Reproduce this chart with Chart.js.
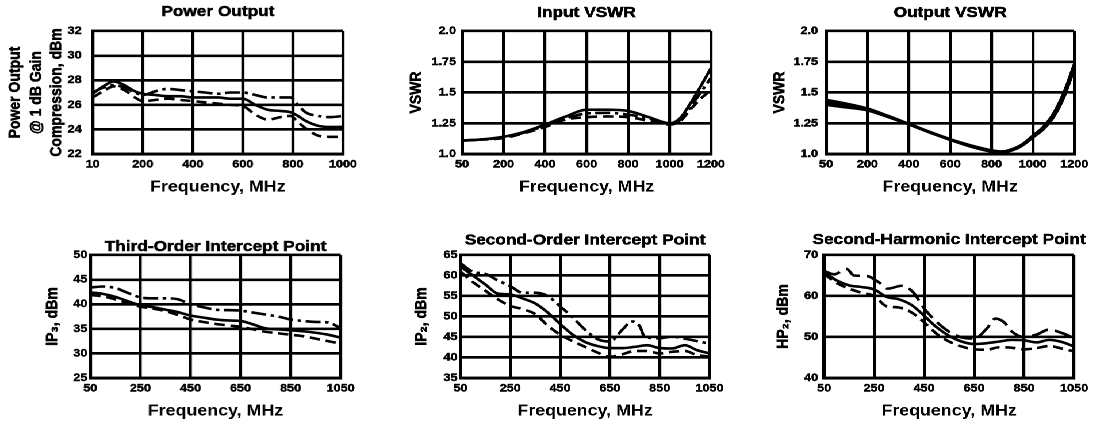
<!DOCTYPE html>
<html>
<head>
<meta charset="utf-8">
<script src="https://cdn.jsdelivr.net/npm/chart.js@4/dist/chart.umd.min.js"></script>
<style>
  html, body { margin: 0; padding: 0; background: #fff; width: 1099px; height: 424px; overflow: hidden; }
  #wrap { position: absolute; left: 0; top: 0; height: 424px; transform-origin: 0 0; }
  .panel { position: absolute; }
</style>
</head>
<body>
<div id="wrap"></div>
<script>
'use strict';

// The scanned figure is a bit wider than it is tall, so the whole page gets stretched in x
const S = 1.15;
const FONT = "'Liberation Sans', Arial, Helvetica, sans-serif";

// ---- Power Output ----
const poXTicks = [10, 200, 400, 600, 800, 1000];
const poYTicks = [22, 24, 26, 28, 30, 32];
const poFreq = [10, 50, 90, 130, 170, 200, 250, 300, 350, 400, 450, 500, 550, 600, 650, 700, 750, 790, 820, 850, 900, 950, 1000];
const poDashDot = [27.0, 27.4, 27.6, 27.4, 27.0, 26.8, 27.1, 27.3, 27.2, 27.1, 27.0, 26.9, 27.0, 27.0, 26.8, 26.6, 26.6, 26.6, 26.0, 25.4, 25.1, 25.0, 25.1];
const poSolid = [26.9, 27.5, 27.9, 27.6, 27.1, 26.9, 26.8, 26.7, 26.7, 26.6, 26.6, 26.6, 26.5, 26.5, 26.0, 25.6, 25.5, 25.4, 25.1, 24.7, 24.3, 24.2, 24.2];
const poDashed = [26.6, 27.1, 27.5, 27.2, 26.6, 26.3, 26.4, 26.5, 26.4, 26.3, 26.2, 26.1, 26.0, 25.9, 25.2, 24.8, 25.0, 25.1, 24.6, 24.1, 23.5, 23.4, 23.4];

// ---- Input VSWR ----
const vswrXTicks = [50, 200, 400, 600, 800, 1000, 1200];
const vswrYTicks = [1.0, 1.25, 1.5, 1.75, 2.0];
const vswrYLabels = ['1.0', '1.25', '1.5', '1.75', '2.0'];
const ivFreq = [50, 100, 200, 300, 400, 500, 600, 700, 800, 900, 1000, 1050, 1100, 1150, 1200];
const ivSolid = [1.11, 1.115, 1.14, 1.18, 1.24, 1.305, 1.36, 1.36, 1.35, 1.30, 1.25, 1.29, 1.41, 1.55, 1.70];
const ivDashDot = [1.11, 1.115, 1.135, 1.175, 1.23, 1.29, 1.33, 1.335, 1.32, 1.29, 1.245, 1.275, 1.38, 1.50, 1.62];
const ivDashed = [1.11, 1.115, 1.13, 1.17, 1.22, 1.28, 1.30, 1.305, 1.30, 1.27, 1.24, 1.265, 1.36, 1.45, 1.52];

// ---- Output VSWR ----
const ovFreq = [50, 100, 200, 300, 400, 500, 600, 700, 800, 850, 900, 950, 1000, 1050, 1100, 1150, 1200];
const ovSolid = [1.44, 1.42, 1.37, 1.31, 1.245, 1.18, 1.12, 1.07, 1.03, 1.02, 1.04, 1.08, 1.15, 1.22, 1.33, 1.50, 1.73];
const ovDashed = [1.42, 1.40, 1.36, 1.305, 1.245, 1.18, 1.12, 1.065, 1.025, 1.02, 1.035, 1.075, 1.14, 1.21, 1.31, 1.48, 1.71];
const ovDashDot = [1.40, 1.385, 1.355, 1.30, 1.24, 1.175, 1.115, 1.06, 1.02, 1.015, 1.03, 1.07, 1.135, 1.20, 1.30, 1.46, 1.69];

// ---- bottom row shares one frequency axis ----
const ipXTicks = [50, 250, 450, 650, 850, 1050];
const ipFreq = [50, 100, 150, 200, 250, 300, 350, 400, 450, 500, 550, 600, 650, 700, 750, 800, 850, 900, 950, 1000, 1050];

// ---- Third-Order Intercept Point ----
const ip3YTicks = [25, 30, 35, 40, 45, 50];
const ip3DashDot = [43.4, 43.6, 43.3, 42.3, 41.4, 41.2, 41.2, 41.0, 40.0, 39.4, 38.9, 38.8, 38.7, 38.3, 37.9, 37.5, 36.9, 36.6, 36.4, 36.3, 35.1];
const ip3Solid = [42.4, 42.1, 41.5, 40.6, 39.8, 39.4, 38.9, 38.4, 37.7, 37.3, 36.9, 36.7, 36.6, 35.9, 35.1, 34.9, 34.7, 34.5, 34.2, 33.8, 33.2];
const ip3Dashed = [41.9, 41.6, 41.0, 40.2, 39.5, 39.1, 38.6, 37.8, 36.9, 36.4, 36.0, 35.7, 35.4, 34.9, 34.4, 34.1, 33.8, 33.5, 33.0, 32.5, 32.0];

// ---- Second-Order Intercept Point ----
const ip2YTicks = [35, 40, 45, 50, 55, 60, 65];
const ip2TopFreq = [50, 100, 150, 200, 250, 300, 350, 400, 450, 500, 550, 600, 650, 700, 740, 770, 790, 850, 900, 950, 1000, 1050];
const ip2Top = [63.0, 60.9, 60.4, 58.8, 57.4, 55.8, 55.8, 55.0, 52.5, 49.8, 46.8, 44.5, 43.9, 46.8, 48.8, 47.6, 45.0, 44.7, 45.1, 44.6, 44.0, 43.4];
const ip2Solid = [62.2, 60.0, 57.8, 55.6, 55.4, 54.4, 53.2, 51.0, 48.2, 45.6, 43.8, 42.8, 42.3, 42.3, 42.6, 43.0, 42.3, 42.2, 43.0, 41.8, 41.0];
const ip2Dashed = [61.0, 58.4, 56.3, 54.2, 52.6, 51.8, 50.6, 47.8, 45.6, 44.0, 42.6, 41.2, 40.2, 40.8, 41.6, 41.6, 41.0, 41.4, 41.6, 40.6, 40.2];

// ---- Second-Harmonic Intercept Point ----
const hp2YTicks = [40, 50, 60, 70];
const hp2TopFreq = [50, 90, 140, 170, 220, 270, 305, 360, 405, 450, 500, 550, 600, 650, 700, 735, 770, 800, 850, 900, 950, 1000, 1050];
const hp2Top = [66.1, 65.3, 66.6, 65.0, 64.9, 63.3, 61.8, 62.5, 61.0, 57.0, 53.7, 51.3, 49.9, 49.6, 52.0, 54.5, 53.6, 51.4, 50.0, 50.6, 51.8, 51.0, 49.8];
const hp2Solid = [65.8, 63.8, 62.6, 62.2, 61.6, 59.8, 59.2, 57.8, 55.2, 52.4, 50.3, 48.9, 48.3, 48.5, 48.9, 49.3, 49.2, 48.7, 49.3, 48.8, 47.7];
const hp2Dashed = [65.4, 63.2, 61.8, 60.8, 60.0, 57.5, 57.2, 56.0, 53.6, 50.8, 48.9, 47.7, 47.0, 46.9, 47.5, 47.4, 47.0, 47.3, 47.8, 47.2, 46.5];

// line styles
const SOLID = [];
const DASHED = [9, 5];
const DASHDOT = [13, 4, 3, 4];
const LONGDASH = [15, 6];

/**
 * The frequency axes are evenly gridded even where the first label is not
 * (10 or 50 MHz sits on the left edge), so map MHz to grid units piecewise.
 */
function gridPos(ticks, f) {
  for (let i = 0; i < ticks.length - 1; i++) {
    if (f <= ticks[i + 1] || i === ticks.length - 2) {
      return i + (f - ticks[i]) / (ticks[i + 1] - ticks[i]);
    }
  }
  return 0;
}

function series(freq, vals, dash, xTicks) {
  return {
    data: freq.map((f, i) => ({ x: gridPos(xTicks, f), y: vals[i] })),
    borderColor: '#000',
    borderWidth: 2.6,
    borderDash: dash,
    pointRadius: 0,
    cubicInterpolationMode: 'monotone',
    fill: false
  };
}

// plot rectangles are in final (page) pixels: [left, top, right, bottom]
// titleGap: plot top to title middle; yTitleAt: page x of each y-title line
const panels = [
  {
    title: 'Power Output', titleGap: 19,
    yTitle: ['Power Output', '@ 1 dB Gain', 'Compression, dBm'], yTitleAt: [15.5, 37, 57], tickPad: 9.6,
    xTicks: poXTicks, yTicks: poYTicks, yLabels: poYTicks.map(String),
    plot: [93, 31, 343, 154],
    lines: [
      series(poFreq, poDashDot, DASHDOT, poXTicks),
      series(poFreq, poSolid, SOLID, poXTicks),
      series(poFreq, poDashed, DASHED, poXTicks)
    ]
  },
  {
    title: 'Input VSWR', titleGap: 18,
    yTitle: ['VSWR'], yTitleAt: [416.5], tickPad: 5.2,
    xTicks: vswrXTicks, yTicks: vswrYTicks, yLabels: vswrYLabels,
    plot: [462, 31, 711, 154],
    lines: [
      series(ivFreq, ivSolid, SOLID, vswrXTicks),
      series(ivFreq, ivDashDot, DASHDOT, vswrXTicks),
      series(ivFreq, ivDashed, DASHED, vswrXTicks)
    ]
  },
  {
    title: 'Output VSWR', titleGap: 18,
    yTitle: ['VSWR'], yTitleAt: [779.5], tickPad: 7,
    xTicks: vswrXTicks, yTicks: vswrYTicks, yLabels: vswrYLabels,
    plot: [826, 31, 1074, 154],
    lines: [
      series(ovFreq, ovSolid, SOLID, vswrXTicks),
      series(ovFreq, ovDashed, SOLID, vswrXTicks),
      series(ovFreq, ovDashDot, SOLID, vswrXTicks)
    ]
  },
  {
    title: 'Third-Order Intercept Point', titleGap: 8,
    yTitle: ['IP\u2083, dBm'], yTitleAt: [52.5], tickPad: 2.6,
    xTicks: ipXTicks, yTicks: ip3YTicks, yLabels: ip3YTicks.map(String),
    plot: [90, 255, 340, 378],
    lines: [
      series(ipFreq, ip3DashDot, DASHDOT, ipXTicks),
      series(ipFreq, ip3Solid, SOLID, ipXTicks),
      series(ipFreq, ip3Dashed, DASHED, ipXTicks)
    ]
  },
  {
    title: 'Second-Order Intercept Point', titleGap: 14.5,
    yTitle: ['IP\u2082, dBm'], yTitleAt: [422], tickPad: 2.6,
    xTicks: ipXTicks, yTicks: ip2YTicks, yLabels: ip2YTicks.map(String),
    plot: [461, 255, 710, 378],
    lines: [
      series(ip2TopFreq, ip2Top, DASHDOT, ipXTicks),
      series(ipFreq, ip2Solid, SOLID, ipXTicks),
      series(ipFreq, ip2Dashed, DASHED, ipXTicks)
    ]
  },
  {
    title: 'Second-Harmonic Intercept Point', titleGap: 15,
    yTitle: ['HP\u2082, dBm'], yTitleAt: [783], tickPad: 5.2,
    xTicks: ipXTicks, yTicks: hp2YTicks, yLabels: hp2YTicks.map(String),
    plot: [824, 255, 1074, 378],
    lines: [
      series(hp2TopFreq, hp2Top, LONGDASH, ipXTicks),
      series(ipFreq, hp2Solid, SOLID, ipXTicks),
      series(ipFreq, hp2Dashed, DASHED, ipXTicks)
    ]
  }
];

Chart.defaults.font.family = FONT;
Chart.defaults.font.weight = 'bold';
Chart.defaults.color = '#000';

/**
 * Panel title and y-axis title, placed against the plot area
 * (the built-in title squeezes long text to the plot width)
 */
const panelText = {
  id: 'panelText',
  afterDraw(chart, args, opts) {
    const { ctx, chartArea } = chart;
    ctx.save();
    ctx.fillStyle = '#000';
    ctx.strokeStyle = '#000';
    ctx.lineWidth = 0.5;
    ctx.textAlign = 'center';
    ctx.textBaseline = 'middle';

    ctx.font = 'bold 15px ' + FONT;
    const tx = (chartArea.left + chartArea.right) / 2;
    const ty = chartArea.top - opts.titleGap;
    ctx.fillText(opts.title, tx, ty);
    ctx.strokeText(opts.title, tx, ty);

    ctx.font = 'bold 14px ' + FONT;
    const midY = (chartArea.top + chartArea.bottom) / 2;
    opts.yTitle.forEach((line, i) => {
      ctx.save();
      ctx.translate(chartArea.left - opts.yTitleOffsets[i], midY);
      ctx.rotate(-Math.PI / 2);
      ctx.fillText(line, 0, 0);
      ctx.strokeText(line, 0, 0);
      ctx.restore();
    });
    ctx.restore();
  }
};

function buildConfig(p) {
  const gridOpts = { color: '#000', lineWidth: 2.6, drawTicks: false };
  const borderOpts = { display: true, color: '#000', width: 3 };
  const tickFont = { size: 11, weight: 'bold' };
  return {
    type: 'line',
    data: { datasets: p.lines },
    plugins: [panelText],
    options: {
      responsive: false,
      maintainAspectRatio: false,
      animation: false,
      devicePixelRatio: 2,
      events: [],
      layout: { padding: { top: 28, left: p.yTitle.length > 1 ? 60 : 25, right: 30, bottom: 0 } },
      plugins: {
        legend: { display: false },
        tooltip: { enabled: false },
        title: { display: false },
        panelText: {
          title: p.title,
          titleGap: p.titleGap,
          yTitle: p.yTitle,
          yTitleOffsets: p.yTitleAt.map(x => (p.plot[0] - x) / S)
        }
      },
      scales: {
        x: {
          type: 'linear',
          min: 0,
          max: p.xTicks.length - 1,
          afterBuildTicks: s => { s.ticks = p.xTicks.map((_, i) => ({ value: i })); },
          ticks: {
            autoSkip: false, maxRotation: 0, padding: 4,
            font: tickFont, textStrokeColor: '#000', textStrokeWidth: 0.4,
            callback: (v, i) => String(p.xTicks[i])
          },
          grid: gridOpts,
          border: borderOpts,
          title: {
            display: true, text: 'Frequency, MHz',
            font: { size: 15.5, weight: 'bold' },
            padding: { top: 2.5, bottom: 0 }
          }
        },
        y: {
          type: 'linear',
          min: p.yTicks[0],
          max: p.yTicks[p.yTicks.length - 1],
          afterBuildTicks: s => { s.ticks = p.yTicks.map(v => ({ value: v })); },
          ticks: {
            padding: p.tickPad,
            font: tickFont, textStrokeColor: '#000', textStrokeWidth: 0.4,
            callback: (v, i) => p.yLabels[i]
          },
          grid: gridOpts,
          border: borderOpts,
          title: { display: false }
        }
      }
    }
  };
}

const wrap = document.getElementById('wrap');
wrap.style.width = (1099 / S) + 'px';
wrap.style.transform = 'scaleX(' + S + ')';

panels.forEach(p => {
  const box = document.createElement('div');
  box.className = 'panel';
  wrap.appendChild(box);

  const canvas = document.createElement('canvas');
  canvas.width = 380;
  canvas.height = 200;
  box.appendChild(canvas);
  const chart = new Chart(canvas, buildConfig(p));

  // move and size the chart so the plot area lands where the reference has it
  const L = p.plot[0] / S, T = p.plot[1], R = p.plot[2] / S, B = p.plot[3];
  for (let k = 0; k < 2; k++) {
    const ca = chart.chartArea;
    const w = chart.width, h = chart.height;
    box.style.left = (L - ca.left) + 'px';
    box.style.top = (T - ca.top) + 'px';
    chart.resize(R - L + ca.left + (w - ca.right), B - T + ca.top + (h - ca.bottom));
  }
});
</script>
</body>
</html>
